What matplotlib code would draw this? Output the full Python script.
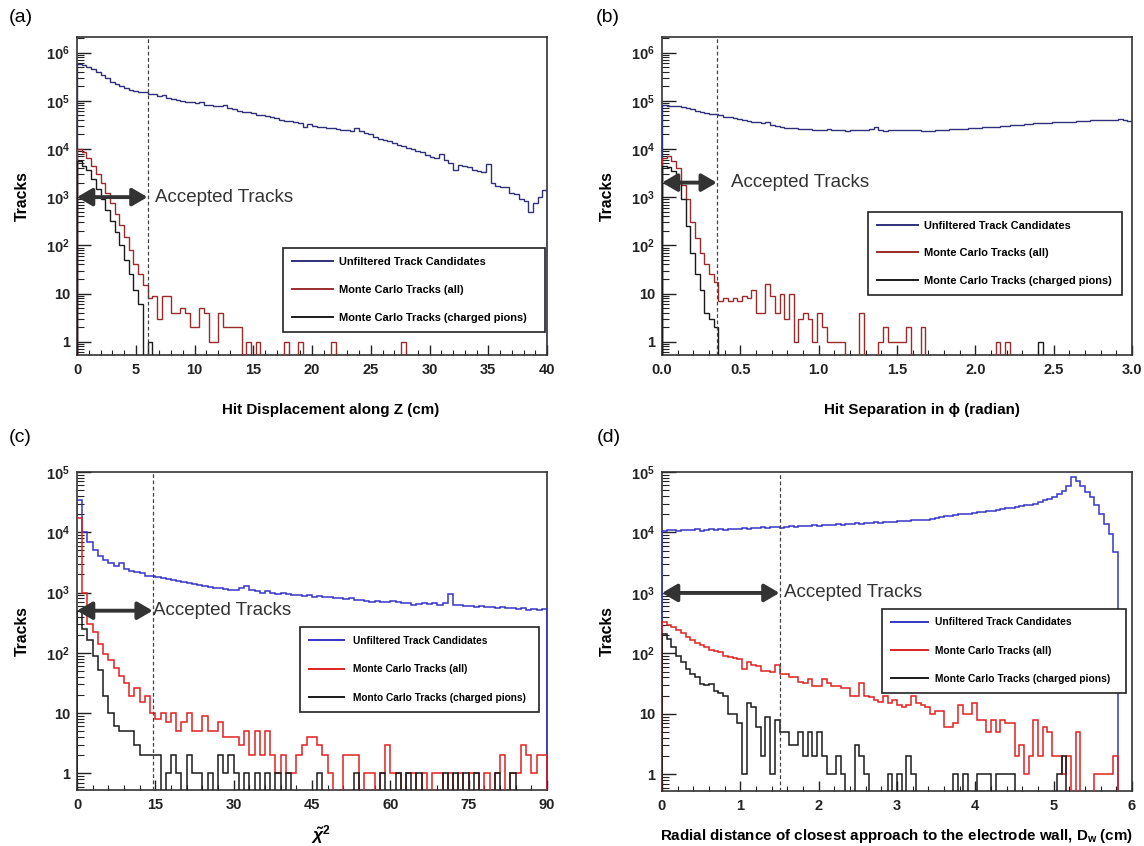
import numpy as np
import matplotlib
matplotlib.use("Agg")
import matplotlib.pyplot as plt
from matplotlib import font_manager
from matplotlib.lines import Line2D
from matplotlib.ticker import (LogLocator, MultipleLocator, FuncFormatter,
                               NullFormatter, FormatStrFormatter)

# ---------------- data (counts per bin) ----------------
# (a) hit displacement along Z, 100 bins of 0.4 cm
a_edges = np.linspace(0, 40, 101)
a_unfiltered = [
    5.7e5, 5.5e5, 5.0e5, 4.6e5, 4.0e5, 3.4e5, 3.0e5, 2.5e5, 2.2e5, 2.0e5,
    1.8e5, 1.7e5, 1.6e5, 1.55e5, 1.5e5, 1.4e5, 1.35e5, 1.25e5, 1.3e5, 1.15e5,
    1.1e5, 1.05e5, 1.0e5, 9.2e4, 9.4e4, 8.9e4, 9.2e4, 8.3e4, 8.1e4, 7.9e4,
    7.6e4, 8.0e4, 7.2e4, 6.8e4, 6.2e4, 5.8e4, 5.7e4, 5.5e4, 5.0e4, 5.1e4,
    4.8e4, 4.6e4, 4.3e4, 4.0e4, 3.8e4, 3.8e4, 3.6e4, 3.4e4, 2.8e4, 3.3e4,
    3.0e4, 2.9e4, 2.8e4, 2.7e4, 2.7e4, 2.6e4, 2.5e4, 2.5e4, 2.4e4, 2.7e4,
    2.3e4, 2.1e4, 2.0e4, 1.8e4, 1.6e4, 1.5e4, 1.45e4, 1.3e4, 1.2e4, 1.15e4,
    1.05e4, 1.0e4, 9.0e3, 8.5e3, 7.5e3, 6.8e3, 6.5e3, 8.0e3, 6.0e3, 5.2e3,
    3.6e3, 4.6e3, 4.4e3, 4.2e3, 3.6e3, 3.5e3, 3.3e3, 4.8e3, 2.0e3, 1.7e3,
    1.6e3, 1.6e3, 1.2e3, 1.15e3, 9.0e2, 8.5e2, 5.0e2, 7.5e2, 1.0e3, 1.4e3,
]
a_mc_all = [
    1.0e4, 8.5e3, 6.5e3, 4.5e3, 3.0e3, 2.0e3, 1.2e3, 7.5e2, 4.5e2, 2.6e2,
    1.5e2, 8.0e1, 4.0e1, 2.5e1, 1.5e1, 8, 9, 3, 9, 9,
    4, 4, 5, 4, 2, 2, 5, 4, 1, 1,
    4, 2, 2, 2, 2, 0, 1, 0, 1, 0,
    0, 0, 0, 0, 1, 0, 0, 1, 0, 0,
    0, 0, 0, 0, 1, 0, 0, 0, 0, 0,
    0, 0, 0, 0, 0, 0, 0, 0, 0, 1,
    0, 0, 0, 0, 0, 0, 0, 0, 0, 0,
    0, 0, 0, 0, 0, 0, 0, 0, 0, 0,
    0, 0, 0, 0, 0, 0, 0, 0, 0, 0,
]
a_mc_pions = [
    5.6e3, 4.5e3, 3.6e3, 2.4e3, 1.5e3, 9.0e2, 5.5e2, 3.2e2, 1.9e2, 1.0e2,
    5.0e1, 2.5e1, 1.2e1, 6, 0, 1, 0, 0, 0, 0,
    0, 0, 0, 0, 0, 0, 0, 0, 0, 0,
    0, 0, 0, 0, 0, 0, 0, 0, 0, 0,
    0, 0, 0, 0, 0, 0, 0, 0, 0, 0,
    0, 0, 0, 0, 0, 0, 0, 0, 0, 0,
    0, 0, 0, 0, 0, 0, 0, 0, 0, 0,
    0, 0, 0, 0, 0, 0, 0, 0, 0, 0,
    0, 0, 0, 0, 0, 0, 0, 0, 0, 0,
    0, 0, 0, 0, 0, 0, 0, 0, 0, 0,
]

# (b) hit separation in phi, 100 bins of 0.03 rad
b_edges = np.linspace(0, 3.0, 101)
b_unfiltered = [
    8.0e4, 7.9e4, 7.9e4, 7.7e4, 7.4e4, 6.9e4, 6.6e4, 6.2e4, 5.9e4, 5.6e4,
    5.3e4, 5.2e4, 5.0e4, 4.7e4, 4.6e4, 4.4e4, 4.1e4, 3.9e4, 3.8e4, 3.6e4,
    3.6e4, 3.4e4, 3.6e4, 3.2e4, 3.0e4, 2.8e4, 2.7e4, 2.7e4, 2.7e4, 2.6e4,
    2.6e4, 2.55e4, 2.5e4, 2.45e4, 2.5e4, 2.55e4, 2.5e4, 2.45e4, 2.5e4, 2.4e4,
    2.45e4, 2.5e4, 2.45e4, 2.5e4, 2.55e4, 2.8e4, 2.5e4, 2.35e4, 2.45e4, 2.5e4,
    2.45e4, 2.5e4, 2.45e4, 2.5e4, 2.45e4, 2.4e4, 2.35e4, 2.4e4, 2.45e4, 2.5e4,
    2.5e4, 2.6e4, 2.6e4, 2.6e4, 2.6e4, 2.7e4, 2.7e4, 2.7e4, 2.8e4, 2.8e4,
    2.9e4, 2.9e4, 3.0e4, 3.0e4, 3.1e4, 3.1e4, 3.2e4, 3.3e4, 3.3e4, 3.4e4,
    3.4e4, 3.5e4, 3.5e4, 3.6e4, 3.6e4, 3.6e4, 3.6e4, 3.7e4, 3.8e4, 3.8e4,
    3.8e4, 3.9e4, 3.9e4, 3.9e4, 4.0e4, 4.0e4, 4.0e4, 4.2e4, 4.0e4, 3.8e4,
]
b_mc_all = [
    6.5e3, 7.0e3, 5.5e3, 4.0e3, 1.8e3, 9.0e2, 3.0e2, 1.4e2, 7.0e1, 4.0e1,
    2.5e1, 1.7e1, 7, 8, 7, 8, 7, 9, 8, 12,
    4, 4, 16, 9, 4, 10, 3, 10, 1, 3,
    4, 3, 1, 4, 2, 1, 1, 1, 1, 0,
    0, 0, 4, 0, 0, 0, 1, 2, 1, 1,
    1, 1, 2, 0, 0, 2, 0, 0, 0, 0,
    0, 0, 0, 0, 0, 0, 0, 0, 0, 0,
    0, 1, 0, 1, 0, 0, 0, 0, 0, 0,
    0, 0, 0, 0, 0, 0, 0, 0, 0, 0,
    0, 0, 0, 0, 0, 0, 0, 0, 0, 0,
]
b_mc_pions = [
    4.5e3, 4.2e3, 3.5e3, 2.2e3, 9.0e2, 2.5e2, 7.0e1, 2.5e1, 1.2e1, 4,
    3, 2, 0, 0, 0, 0, 0, 0, 0, 0,
    0, 0, 0, 0, 0, 0, 0, 0, 0, 0,
    0, 0, 0, 0, 0, 0, 0, 0, 0, 0,
    0, 0, 0, 0, 0, 0, 0, 0, 0, 0,
    0, 0, 0, 0, 0, 0, 0, 0, 0, 0,
    0, 0, 0, 0, 0, 0, 0, 0, 0, 0,
    0, 0, 0, 0, 0, 0, 0, 0, 0, 0,
    1, 0, 0, 0, 0, 0, 0, 0, 0, 0,
    0, 0, 0, 0, 0, 0, 0, 0, 0, 0,
]

# (c) reduced chi-square, 90 bins of width 1
c_edges = np.linspace(0, 90, 91)
c_unfiltered = [
    3.4e4, 1.0e4, 6.8e3, 5.0e3, 4.1e3, 3.5e3, 3.1e3, 2.8e3, 3.1e3, 2.5e3,
    2.3e3, 2.2e3, 2.1e3, 1.9e3, 1.85e3, 1.8e3, 1.75e3, 1.7e3, 1.6e3, 1.55e3,
    1.5e3, 1.45e3, 1.4e3, 1.35e3, 1.3e3, 1.25e3, 1.2e3, 1.2e3, 1.15e3, 1.1e3,
    1.1e3, 1.2e3, 1.3e3, 1.1e3, 1.05e3, 1.0e3, 1.05e3, 1.0e3, 9.5e2, 9.8e2,
    9.5e2, 9.0e2, 9.2e2, 8.8e2, 9.0e2, 8.5e2, 8.8e2, 8.6e2, 8.4e2, 8.2e2,
    8.0e2, 7.8e2, 8.0e2, 7.6e2, 7.5e2, 7.2e2, 7.0e2, 7.2e2, 7.0e2, 7.0e2,
    7.2e2, 7.0e2, 6.8e2, 6.6e2, 6.2e2, 6.4e2, 6.6e2, 6.5e2, 6.8e2, 6.2e2,
    6.6e2, 9.5e2, 6.3e2, 6.2e2, 6.0e2, 6.0e2, 5.8e2, 6.0e2, 5.8e2, 5.7e2,
    5.6e2, 5.7e2, 5.5e2, 5.6e2, 5.4e2, 5.5e2, 5.2e2, 5.3e2, 5.1e2, 5.3e2,
]
c_mc_all = [
    1.7e4, 1.0e3, 3.0e2, 2.2e2, 1.4e2, 9.5e1, 7.5e1, 5.5e1, 4.2e1, 3.2e1,
    1.9e1, 2.6e1, 1.5e1, 1.9e1, 1.0e1, 8, 10, 7, 10, 5,
    7, 10, 5, 5, 9, 5, 5, 7, 4, 4,
    4, 3, 5, 2, 5, 2, 5, 2, 1, 2,
    1, 1, 2, 3, 4, 4, 3, 2, 1, 0,
    0, 2, 2, 2, 0, 1, 1, 0, 1, 3,
    1, 1, 0, 1, 1, 0, 1, 0, 1, 1,
    0, 1, 0, 1, 0, 1, 1, 0, 1, 0,
    1, 2, 0, 1, 1, 3, 2, 1, 2, 2,
]
c_mc_pions = [
    5.0e2, 2.5e2, 1.65e2, 8.7e1, 5.2e1, 1.9e1, 1.0e1, 6, 5, 5,
    5, 3, 2, 2, 2, 2, 0, 1, 2, 1,
    0, 2, 1, 1, 0, 1, 0, 2, 1, 2,
    1, 0, 1, 0, 1, 0, 1, 0, 1, 0,
    1, 0, 0, 0, 0, 0, 1, 0, 0, 0,
    0, 0, 0, 1, 0, 0, 0, 0, 1, 0,
    0, 1, 0, 1, 0, 1, 0, 0, 0, 0,
    1, 0, 1, 0, 1, 0, 1, 0, 0, 0,
    1, 0, 0, 1, 0, 0, 0, 0, 0, 0,
]

# (d) radial distance to the electrode wall, 100 bins of 0.06 cm
d_edges = np.linspace(0, 6, 101)
d_unfiltered = [
    1.05e4, 1.08e4, 1.1e4, 1.05e4, 1.1e4, 1.08e4, 1.1e4, 1.12e4, 1.05e4, 1.1e4,
    1.12e4, 1.1e4, 1.15e4, 1.1e4, 1.12e4, 1.15e4, 1.12e4, 1.18e4, 1.15e4, 1.2e4,
    1.18e4, 1.22e4, 1.2e4, 1.25e4, 1.22e4, 1.2e4, 1.25e4, 1.28e4, 1.25e4, 1.3e4,
    1.28e4, 1.3e4, 1.33e4, 1.3e4, 1.35e4, 1.32e4, 1.35e4, 1.38e4, 1.35e4, 1.4e4,
    1.38e4, 1.42e4, 1.4e4, 1.45e4, 1.42e4, 1.48e4, 1.45e4, 1.5e4, 1.48e4, 1.5e4,
    1.52e4, 1.55e4, 1.55e4, 1.58e4, 1.6e4, 1.62e4, 1.6e4, 1.68e4, 1.75e4, 1.8e4,
    1.85e4, 1.9e4, 1.95e4, 2.0e4, 2.05e4, 2.0e4, 2.1e4, 2.15e4, 2.2e4, 2.25e4,
    2.3e4, 2.35e4, 2.4e4, 2.5e4, 2.55e4, 2.6e4, 2.7e4, 2.8e4, 2.9e4, 3.0e4,
    3.2e4, 3.4e4, 3.6e4, 3.9e4, 4.3e4, 4.8e4, 5.8e4, 8.3e4, 7.2e4, 5.8e4,
    4.7e4, 3.8e4, 2.8e4, 2.0e4, 1.4e4, 9.3e3, 4.8e3, 0, 0, 0,
]
d_mc_all = [
    335, 290, 270, 240, 215, 190, 165, 150, 140, 130,
    115, 110, 105, 90, 88, 85, 80, 55, 72, 65,
    62, 52, 52, 50, 65, 46, 45, 40, 40, 34,
    33, 38, 29, 29, 38, 33, 29, 29, 27, 27,
    20, 20, 33, 20, 19, 17, 16, 20, 15, 17,
    14, 13, 14, 20, 15, 14, 13, 10, 11, 11,
    6, 6, 7, 14, 10, 10, 15, 8, 8, 5,
    8, 5, 8, 7, 7, 2, 3, 1, 2, 8,
    2, 6, 5, 2, 2, 1, 2, 0, 5, 0,
    0, 0, 1, 1, 1, 1, 2, 0, 0, 0,
]
d_mc_pions = [
    210, 175, 127, 90, 72, 55, 45, 40, 31, 30,
    31, 24, 22, 20, 10, 10, 7, 1, 15, 13,
    6, 2, 9, 1, 8, 5, 5, 3, 3, 5,
    2, 5, 2, 5, 2, 1, 1, 2, 1, 0,
    0, 3, 2, 1, 0, 0, 0, 0, 1, 0,
    1, 0, 2, 1, 0, 0, 0, 0, 0, 0,
    0, 0, 1, 0, 1, 0, 0, 1, 1, 1,
    0, 1, 1, 1, 1, 0, 0, 0, 0, 0,
    0, 0, 0, 0, 1, 2, 0, 0, 0, 0,
    0, 0, 0, 0, 0, 0, 0, 0, 0, 0,
]

legend_ab = ["Unfiltered Track Candidates", "Monte Carlo Tracks (all)",
             "Monte Carlo Tracks (charged pions)"]
legend_c = ["Unfiltered Track Candidates", "Monte Carlo Tracks (all)",
            "Monto Carlo Tracks (charged pions)"]

# ---------------- fonts ----------------
installed = {f.name for f in font_manager.fontManager.ttflist}
if "Liberation Sans Narrow" in installed:
    FONT, k = "Liberation Sans Narrow", 1.0
else:
    FONT, k = "Liberation Sans", 0.84
plt.rcParams["font.family"] = [FONT, "DejaVu Sans"]
plt.rcParams["font.weight"] = "bold"
plt.rcParams["axes.labelweight"] = "bold"
plt.rcParams["mathtext.fontset"] = "custom"
plt.rcParams["mathtext.rm"] = FONT
plt.rcParams["mathtext.bf"] = FONT + ":bold"
plt.rcParams["mathtext.it"] = FONT + ":italic"


def yfmt(v, pos):
    e = int(round(np.log10(v)))
    if e == 0:
        return "1"
    if e == 1:
        return "10"
    return r"$\mathbf{10^{%d}}$" % e


def hist_line(ax, edges, counts, color, lw):
    vals = np.asarray(counts, dtype=float)
    vals = np.where(vals > 0, vals, 1e-3)
    ax.stairs(vals, edges, baseline=1e-3, color=color, lw=lw, zorder=3)


def panel(rect, edges, series, colors, lw, ymax, major, minor, xfmt,
          cut, arrow_y, text_x, xlabel, xlabel_x, xlabel_y, xlabel_fs,
          leg_box, leg_labels, leg_fs, leg_space, leg_pad, leg_hlen, leg_tpad):
    ax = fig.add_axes(rect)
    for vals, c in zip(series, colors):
        hist_line(ax, edges, vals, c, lw)
    ax.set_yscale("log")
    ax.set_xlim(edges[0], edges[-1])
    ax.set_ylim(0.53, ymax)
    ax.xaxis.set_major_locator(MultipleLocator(major))
    ax.xaxis.set_minor_locator(MultipleLocator(minor))
    ax.xaxis.set_major_formatter(FormatStrFormatter(xfmt))
    ax.yaxis.set_major_locator(LogLocator(base=10, numticks=12))
    ax.yaxis.set_minor_locator(LogLocator(base=10, subs=np.arange(2, 10), numticks=100))
    ax.yaxis.set_major_formatter(FuncFormatter(yfmt))
    ax.yaxis.set_minor_formatter(NullFormatter())
    ax.tick_params(which="both", direction="in", top=False, right=False,
                   colors="#222222", labelsize=12.5 * k)
    ax.tick_params(axis="y", which="major", length=10, width=1, pad=5)
    ax.tick_params(axis="y", which="minor", length=5, width=0.8)
    ax.tick_params(axis="x", which="major", length=7, width=1, pad=6)
    ax.tick_params(axis="x", which="minor", length=3.5, width=0.8)
    for s in ax.spines.values():
        s.set_color("#333333")
        s.set_linewidth(1.2)

    # acceptance cut
    ax.axvline(cut, color="#444444", lw=0.9, ls=(0, (3, 2)), zorder=4)
    ax.annotate("", xy=(cut, arrow_y), xytext=(edges[0], arrow_y),
                arrowprops=dict(arrowstyle="<|-|>,head_length=0.6,head_width=0.35",
                                color="#333333", lw=2.8, mutation_scale=15,
                                shrinkA=0, shrinkB=0), zorder=5)
    ax.text(text_x, arrow_y, "Accepted Tracks", fontsize=13.5, fontweight="normal",
            family=["Liberation Sans", "DejaVu Sans"], color="#333333",
            ha="left", va="center", zorder=5)

    ax.set_xlabel(xlabel, fontsize=xlabel_fs * k, va="center")
    ax.xaxis.set_label_coords(xlabel_x, xlabel_y)
    ax.set_ylabel("Tracks", fontsize=13.5 * k, va="center")
    ax.yaxis.set_label_coords(-0.117, 0.5)

    handles = [Line2D([], [], color=c, lw=1.4) for c in colors]
    x0, y0, x1, y1 = leg_box
    leg = ax.legend(handles, leg_labels, loc="upper left",
                    bbox_to_anchor=(x0, y0, x1 - x0, y1 - y0), mode="expand",
                    borderaxespad=0, fontsize=leg_fs * k, handlelength=leg_hlen,
                    handletextpad=leg_tpad, labelspacing=leg_space, borderpad=leg_pad,
                    fancybox=False, framealpha=1, edgecolor="#222222")
    leg.get_frame().set_linewidth(1.2)
    leg.set_zorder(6)
    return ax


fig = plt.figure(figsize=(11.44, 8.46), dpi=100)

W, H = 1144, 846


def rect(l, r, t, b):
    return [l / W, 1 - b / H, (r - l) / W, (b - t) / H]


dark = ["#30307a", "#9b2b2b", "#1a1a1a"]
bright = ["#3535c8", "#e02020", "#1a1a1a"]

panel(rect(77, 547, 37, 355), a_edges, [a_unfiltered, a_mc_all, a_mc_pions], dark, 1.0,
      2.1e6, 5, 1, "%d", 6.0, 1e3, 6.6,
      "Hit Displacement along Z (cm)", 0.54, -0.173, 13,
      (0.438, 0.069, 0.996, 0.3365), legend_ab, 9.4, 1.65, 0.81, 3.75, 0.55)

panel(rect(662, 1132, 37, 355), b_edges, [b_unfiltered, b_mc_all, b_mc_pions], dark, 1.0,
      2.1e6, 0.5, 0.1, "%.1f", 0.35, 2e3, 0.44,
      "Hit Separation in ϕ (radian)", 0.553, -0.173, 13,
      (0.438, 0.189, 0.979, 0.450), legend_ab, 9.4, 1.6, 0.81, 3.75, 0.55)

panel(rect(77, 547, 472, 790), c_edges, [c_unfiltered, c_mc_all, c_mc_pions], bright, 1.1,
      1e5, 15, 3, "%d", 14.5, 5e2, 14.6,
      r"$\tilde{\chi}^{2}$", 0.52, -0.14, 15,
      (0.474, 0.248, 0.983, 0.513), legend_c, 8.7, 1.8, 0.9, 3.5, 0.8)

panel(rect(662, 1132, 472, 791), d_edges, [d_unfiltered, d_mc_all, d_mc_pions], bright, 1.1,
      1e5, 1, 0.2, "%d", 1.5, 1e3, 1.56,
      r"Radial distance of closest approach to the electrode wall, $\mathbf{D_{w}}$ (cm)",
      0.5, -0.14, 13,
      (0.468, 0.305, 0.987, 0.572), legend_ab, 8.8, 1.78, 0.85, 3.6, 0.7)

for txt, x, y in [("(a)", 9, 17), ("(b)", 596, 17), ("(c)", 9, 437), ("(d)", 597, 437)]:
    fig.text(x / W, 1 - y / H, txt, fontsize=14, fontweight="normal",
             family=["Liberation Sans", "DejaVu Sans"], ha="left", va="center")

fig.savefig("out.png", dpi=100)
